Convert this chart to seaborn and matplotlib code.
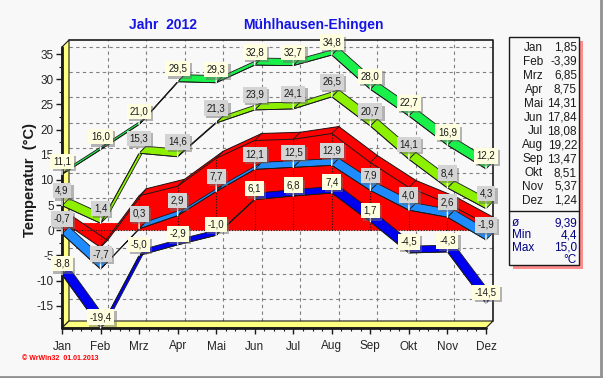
import numpy as np
import pandas as pd
import matplotlib
matplotlib.use("Agg")
import matplotlib.pyplot as plt
import matplotlib.patheffects as pe
import seaborn as sns
from matplotlib.patches import Polygon, Rectangle
from matplotlib.lines import Line2D

# ---------------- data ----------------
months = ["Jan", "Feb", "Mrz", "Apr", "Mai", "Jun", "Jul", "Aug", "Sep", "Okt", "Nov", "Dez"]
abs_max = [11.1, 16.0, 21.0, 29.5, 29.3, 32.8, 32.7, 34.8, 28.0, 22.7, 16.9, 12.2]
mean_max = [4.9, 1.4, 15.3, 14.6, 21.3, 23.9, 24.1, 26.5, 20.7, 14.1, 8.4, 4.3]
mean_temp = [1.85, -3.39, 6.85, 8.75, 14.31, 17.84, 18.08, 19.22, 13.47, 8.51, 5.37, 1.24]
mean_min = [-0.7, -7.7, 0.3, 2.9, 7.7, 12.1, 12.5, 12.9, 7.9, 4.0, 2.6, -1.9]
abs_min = [-8.8, -19.4, -5.0, -2.9, -1.0, 6.1, 6.8, 7.4, 1.7, -4.5, -4.3, -14.5]
yticks = [-15, -10, -5, 0, 5, 10, 15, 20, 25, 30, 35]
stat_labels = ["ø", "Min", "Max"]
stat_values = ["9,39", "4,4", "15,0"]
title_year = "Jahr  2012"
title_station = "Mühlhausen-Ehingen"
ylabel = "Temperatur  (°C)"
footer = "© WrWin32  01.01.2013"
unit = "°C"

# ---------------- style ----------------
sns.set_theme(style="white")
plt.rcParams['font.family'] = ['Liberation Sans', 'DejaVu Sans']

W, H = 603, 378
BG = '#f8f8f8'
fig = plt.figure(figsize=(W / 100, H / 100), dpi=100)
fig.patch.set_facecolor(BG)

# front plotting area in pixels
AX_L, AX_R, AX_T, AX_B = 62, 486, 47, 328
ax = fig.add_axes([AX_L / W, 1 - AX_B / H, (AX_R - AX_L) / W, (AX_B - AX_T) / H])
ax.patch.set_alpha(0)
XLO, XHI = 0, 11
YLO, YHI = -19.4, 36.4
ax.set_xlim(XLO, XHI)
ax.set_ylim(YLO, YHI)
for s in ax.spines.values():
    s.set_visible(False)

# 3D depth offset (7 px right, 7 px up) in data units
DPX = 7
DX = DPX * (XHI - XLO) / (AX_R - AX_L)
DY = DPX * (YHI - YLO) / (AX_B - AX_T)

# ---------------- back wall grid ----------------
for i in range(1, 11):
    ax.plot([i + DX, i + DX], [YLO + DY, YHI + DY], ls=(0, (3, 3)), color='#808080',
            lw=0.8, clip_on=False, zorder=1)
for yv in yticks:
    ax.plot([XLO + DX, XHI + DX], [yv + DY, yv + DY], ls=(0, (3, 3)), color='#808080',
            lw=0.8, clip_on=False, zorder=1)

# walls
wall_c = '#ffff80'
ax.add_patch(Polygon([(XLO, YLO), (XLO, YHI), (XLO + DX, YHI + DY), (XLO + DX, YLO + DY)],
                     closed=True, fc=wall_c, ec='k', lw=0.8, zorder=2, clip_on=False))
ax.add_patch(Polygon([(XLO, YLO), (XHI, YLO), (XHI + DX, YLO + DY), (XLO + DX, YLO + DY)],
                     closed=True, fc=wall_c, ec='k', lw=0.8, zorder=2, clip_on=False))
# back frame
ax.plot([XLO + DX, XHI + DX, XHI + DX], [YHI + DY, YHI + DY, YLO + DY], color='k', lw=1.2,
        clip_on=False, zorder=2)
# front axis lines
ax.plot([XLO, XLO], [YLO, YHI], color='k', lw=2.0, clip_on=False, zorder=9)
ax.plot([XLO, XHI], [YLO, YLO], color='k', lw=2.0, clip_on=False, zorder=9)

xs = np.arange(len(months))


def ribbon(vals, face, z):
    for i in range(len(vals) - 1):
        x0, x1 = xs[i], xs[i + 1]
        y0, y1 = vals[i], vals[i + 1]
        ax.add_patch(Polygon([(x0, y0), (x1, y1), (x1 + DX, y1 + DY), (x0 + DX, y0 + DY)],
                             closed=True, fc=face, ec='k', lw=0.6, zorder=z, clip_on=False))
    sns.lineplot(x=xs, y=vals, color='k', lw=0.6, ax=ax, zorder=z + 0.1, legend=False)


# series ribbons (back to front)
ribbon(abs_max, '#19f04a', 3)
ribbon(mean_max, '#8cf000', 4)

# red 3D area for mean temperature
mt = np.array(mean_temp)
front = [(x, y) for x, y in zip(xs, mt)] + [(xs[-1], 0), (xs[0], 0)]
red = '#ff0000'
ax.add_patch(Polygon(front, closed=True, fc=red, ec='none', zorder=5, clip_on=False))
ax.add_patch(Polygon([(x + DX, y + DY) for x, y in front], closed=True, fc=red, ec='none',
                     zorder=5, clip_on=False))
for k in range(len(front)):
    p, q = front[k], front[(k + 1) % len(front)]
    ax.add_patch(Polygon([p, q, (q[0] + DX, q[1] + DY), (p[0] + DX, p[1] + DY)], closed=True,
                         fc=red, ec='none', zorder=5, clip_on=False))
ax.plot(xs, mt, color='k', lw=0.7, zorder=5.2, clip_on=False)
ax.plot(xs + DX, mt + DY, color='k', lw=0.7, zorder=5.2, clip_on=False)
for x, y in zip(xs, mt):
    ax.plot([x, x + DX], [y, y + DY], color='k', lw=0.6, zorder=5.2, clip_on=False)
    ax.plot([x, x], [0, y], color='k', lw=0.8, ls=(0, (1, 1.5)), zorder=5.1)
ax.plot([XLO, XHI], [0, 0], color='k', lw=0.8, ls=(0, (1, 1.5)), zorder=5.1)

ribbon(mean_min, '#1e8cff', 6)
ribbon(abs_min, '#0000f0', 7)


# ---------------- value labels ----------------
def fmt(v, d=1):
    return f"{v:.{d}f}".replace('.', ',')


def labels(vals, fc, up):
    for x, v in zip(xs, vals):
        t = ax.annotate(fmt(v), xy=(x, v), xytext=(0, up * 0.72), textcoords='offset points',
                        ha='center', va='center', fontsize=7, color='k', zorder=11,
                        annotation_clip=False,
                        bbox=dict(boxstyle='square,pad=0.28', fc=fc, ec='none'),
                        arrowprops=dict(arrowstyle='-', color='white', lw=1.0,
                                        shrinkA=0, shrinkB=0))
        t.get_bbox_patch().set_path_effects([
            pe.withSimplePatchShadow(offset=(1.6, -1.6), shadow_rgbFace='#707070', alpha=0.5),
            pe.Normal()])


labels(abs_max, '#ffffe0', 13)
labels(mean_max, '#d4d4d4', 15)
labels(mean_min, '#d4d4d4', 15)
labels(abs_min, '#ffffe0', 11)

# ---------------- ticks ----------------
ax.set_xticks(xs)
ax.set_xticklabels(months, fontsize=8.5)
ax.set_xticks(np.arange(XLO, XHI + 0.01, 0.25), minor=True)
ax.set_yticks(yticks)
ax.set_yticklabels([str(t) for t in yticks], fontsize=8.5)
ax.set_yticks(np.arange(-17.5, 36, 2.5), minor=True)
ax.tick_params(which='major', direction='out', length=4, width=1, color='k',
               left=True, bottom=True, pad=2)
ax.tick_params(which='minor', direction='out', length=2.5, width=0.8, color='k',
               left=True, bottom=True)
ax.tick_params(axis='x', pad=5)
ax.grid(False)

# ---------------- texts ----------------
fig.text(163 / W, 1 - 25 / H, title_year, color='#1414e6', fontsize=10, weight='bold',
         ha='center', va='center')
fig.text(313 / W, 1 - 25 / H, title_station, color='#1414e6', fontsize=10, weight='bold',
         ha='center', va='center')
fig.text(30 / W, 1 - 180 / H, ylabel, rotation=90, fontsize=10.5, weight='bold',
         ha='center', va='center', color='k')
fig.text(22 / W, 1 - 358 / H, footer, color='red', fontsize=5, weight='bold', va='center')

# ---------------- legend box ----------------
BX0, BY0, BX1, BY1 = 509, 37, 579, 265
fig.patches.append(Rectangle((BX0 / W + 4 / W, 1 - (BY1 + 4) / H), (BX1 - BX0) / W,
                             (BY1 - BY0) / H, transform=fig.transFigure,
                             fc='#ff8c8c', ec='none', zorder=1))
fig.patches.append(Rectangle((BX0 / W, 1 - BY1 / H), (BX1 - BX0) / W, (BY1 - BY0) / H,
                             transform=fig.transFigure, fc=BG, ec='k', lw=1, zorder=2))
fig.lines.append(Line2D([BX0 / W, BX1 / W], [1 - 211 / H, 1 - 211 / H],
                        transform=fig.transFigure, color='k', lw=1, zorder=3))
for i, (m, v) in enumerate(zip(months, mean_temp)):
    yy = 1 - (48 + 13.9 * i) / H
    fig.text(543 / W, yy, m, ha='right', va='center', fontsize=8.5, color='k', zorder=4)
    fig.text(577 / W, yy, fmt(v, 2), ha='right', va='center', fontsize=8.5, color='k', zorder=4)
for i, (lab, val) in enumerate(zip(stat_labels, stat_values)):
    yy = 1 - (223 + 12.5 * i) / H
    fig.text(512 / W, yy, lab, ha='left', va='center', fontsize=8.5, color='#000080', zorder=4)
    fig.text(577 / W, yy, val, ha='right', va='center', fontsize=8.5, color='#000080', zorder=4)
fig.text(577 / W, 1 - 260 / H, unit, ha='right', va='center', fontsize=8.5, color='#000080',
         zorder=4)

# figure border (right / bottom)
fig.lines.append(Line2D([601 / W, 601 / W], [0, 1], transform=fig.transFigure,
                        color='#909090', lw=2))
fig.lines.append(Line2D([0, 1], [1 - 376.5 / H, 1 - 376.5 / H], transform=fig.transFigure,
                        color='#909090', lw=2))

fig.savefig('out.png', dpi=100, facecolor=BG)
